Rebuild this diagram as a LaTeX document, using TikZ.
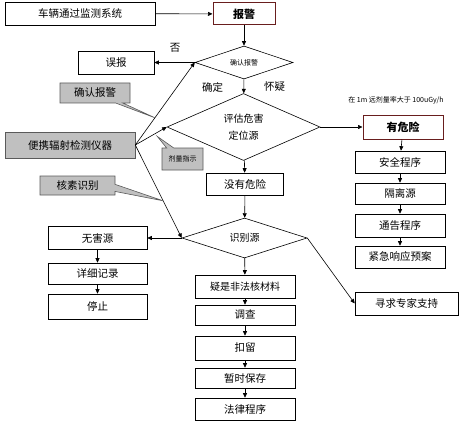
\documentclass[tikz,border=0pt]{standalone}
\usepackage{fontspec}
\setmainfont{Noto Sans CJK SC}
\usetikzlibrary{shapes.geometric,shapes.callouts,arrows.meta}
\definecolor{gfill}{RGB}{192,192,192}
\definecolor{gline}{RGB}{90,90,90}
\definecolor{alarmred}{RGB}{105,30,30}
\begin{document}
\begin{tikzpicture}[x=1pt,y=-1pt,
  box/.style={draw=black,line width=0.6pt,fill=white,inner sep=0pt,font=\fontsize{10.5}{12}\selectfont},
  alarmbox/.style={box,draw=alarmred,line width=1pt,font=\fontsize{11}{13}\selectfont\bfseries},
  graybox/.style={box,fill=gfill,draw=gline},
  callbox/.style={rectangle callout,fill=gfill,draw=gline,line width=0.6pt,inner sep=0pt,font=\fontsize{10.5}{12}\selectfont},
  dia/.style={diamond,draw=black,line width=0.6pt,inner sep=0pt,fill=white},
  arr/.style={-{Triangle[length=4.5pt,width=4pt]},line width=0.6pt},
  lbl/.style={inner sep=0pt,font=\fontsize{10.5}{12}\selectfont},
  tiny/.style={font=\fontsize{7}{8}\selectfont}
]
\useasboundingbox (0,0) rectangle (473,425);

% top row
\node[box,minimum width=150pt,minimum height=23pt] (sys) at (80,13.5) {车辆通过监测系统};
\node[alarmbox,minimum width=62pt,minimum height=22pt] (alarm) at (244,14) {报警};

% diamonds
\node[dia,aspect=3,minimum width=98pt,minimum height=33pt,tiny] (d1) at (244,62.5) {确认报警};
\node[dia,aspect=2.3,minimum width=153pt,minimum height=67pt,align=center,font=\fontsize{10}{17}\selectfont] (d2) at (243.5,127) {评估危害\\定位源};
\node[box,minimum width=77pt,minimum height=22pt] (nod) at (245,184) {没有危险};
\node[dia,aspect=3,minimum width=125pt,minimum height=40pt] (d3) at (244.5,238) {识别源};

% left false alarm
\node[box,minimum width=76pt,minimum height=23pt] (fa) at (116,62.5) {误报};

% danger column
\node[alarmbox,minimum width=80pt,minimum height=24pt] (dang) at (403,127) {有危险};
\node[inner sep=0pt,tiny] (note) at (396,100) {在 1m 远剂量率大于 100uGy/h};
\node[box,minimum width=90pt,minimum height=22pt] (s1) at (400,162) {安全程序};
\node[box,minimum width=90pt,minimum height=21pt] (s2) at (400,193.5) {隔离源};
\node[box,minimum width=90pt,minimum height=23pt] (s3) at (400,225.5) {通告程序};
\node[box,minimum width=90pt,minimum height=22pt] (s4) at (400,257) {紧急响应预案};

% harmless column
\node[box,minimum width=99pt,minimum height=23pt] (h1) at (97.5,238) {无害源};
\node[box,minimum width=99pt,minimum height=21pt] (h2) at (97.5,273.5) {详细记录};
\node[box,minimum width=99pt,minimum height=25pt] (h3) at (97.5,306.5) {停止};

% illegal column
\node[box,minimum width=100pt,minimum height=23pt,font=\fontsize{10}{12}\selectfont] (i1) at (245,286.5) {疑是非法核材料};
\node[box,minimum width=100pt,minimum height=20pt] (i2) at (245,315) {调查};
\node[box,minimum width=100pt,minimum height=24pt] (i3) at (245,348) {扣留};
\node[box,minimum width=100pt,minimum height=20pt] (i4) at (245,378) {暂时保存};
\node[box,minimum width=100pt,minimum height=22pt] (i5) at (245,409) {法律程序};

% expert
\node[box,minimum width=103pt,minimum height=23pt] (exp) at (406.5,303.5) {寻求专家支持};

% portable instrument
\node[graybox,minimum width=130pt,minimum height=26pt] (port) at (70,145) {便携辐射检测仪器};

% labels
\node[lbl] (no) at (175,48) {否};
\node[lbl] (sure) at (212.5,87) {确定};
\node[lbl] (doubt) at (274.5,87) {怀疑};

% connectors
\draw[arr] (sys) -- (alarm);
\draw[arr] (alarm) -- (d1);
\draw[arr] (d1.west) -- (fa.east);
\draw[arr] (d1) -- (d2);
\draw[arr] (d2.east) -- (dang.west);
\draw[arr] (dang) -- (s1);
\draw[arr] (s1) -- (s2);
\draw[arr] (s2) -- (s3);
\draw[arr] (s3) -- (s4);
\draw[arr] (d2) -- (nod);
\draw[arr] (nod) -- (d3);
\draw[arr] (d3.west) -- (h1.east);
\draw[arr] (h1) -- (h2);
\draw[arr] (h2) -- (h3);
\draw[arr] (d3) -- (i1);
\draw[arr] (i1) -- (i2);
\draw[arr] (i2) -- (i3);
\draw[arr] (i3) -- (i4);
\draw[arr] (i4) -- (i5);
\draw[arr] (d3.east) -- (exp.west);
\draw[arr] (port.east) -- (d1.west);
\draw[arr] (port.east) -- (d2.west);
\draw[arr] (port.east) -- (d3.west);

% callout pointer targets
\path (port.east) -- (d1.west) coordinate[pos=0.33] (p1);
\path (port.east) -- (d2.west) coordinate[pos=0.7] (p2a);
\coordinate (p2) at ([yshift=-4pt]p2a);
\path (port.east) -- (d3.west) coordinate[pos=0.6] (p3);

% callouts
\node[callbox,minimum width=70pt,minimum height=20pt,callout absolute pointer={(p1)}] (c1) at (95,93) {确认报警};
\node[callbox,minimum width=41pt,minimum height=22pt,tiny,callout absolute pointer={(p2)}] (c2) at (182.5,159) {剂量指示};
\node[callbox,minimum width=75pt,minimum height=19pt,callout absolute pointer={(p3)}] (c3) at (77.5,185.5) {核素识别};
\end{tikzpicture}
\end{document}
